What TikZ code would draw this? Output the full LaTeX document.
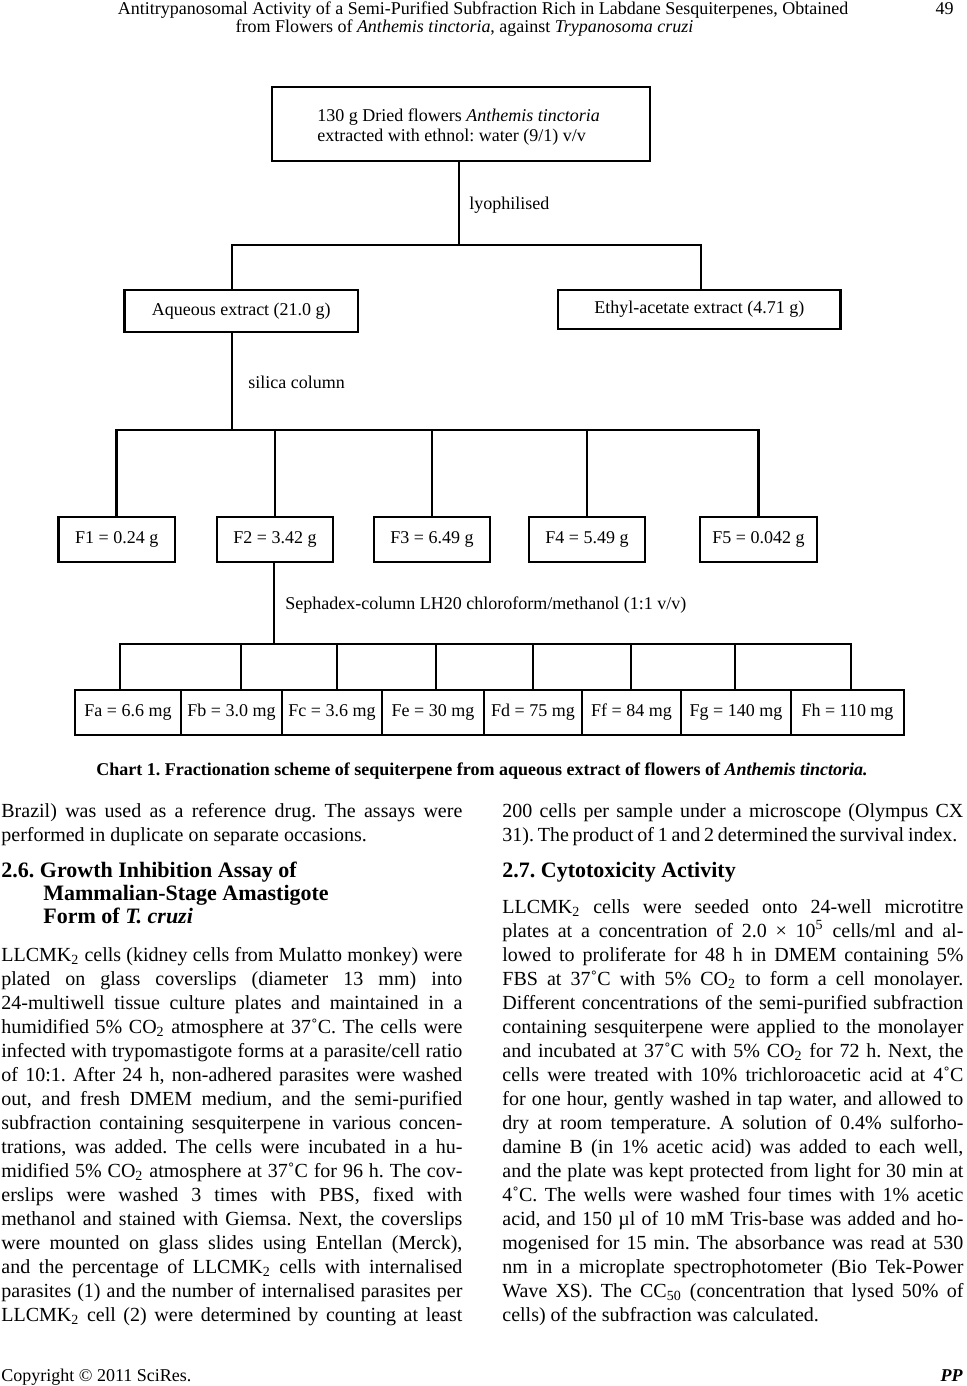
\documentclass[tikz,border=0pt]{standalone}
\usepackage{fontspec}
\setmainfont{Liberation Serif}
\frenchspacing
\newcommand\dfont{\fontsize{9pt}{11pt}\selectfont}
\newcommand\hfont{\fontsize{9pt}{11pt}\selectfont}
\newcommand\bfont{\fontsize{10pt}{12pt}\selectfont}
\newcommand\secfont{\fontsize{11pt}{12pt}\selectfont\bfseries}
\newcommand\capfont{\fontsize{9pt}{11pt}\selectfont\bfseries}
\newcommand\JL[1]{\makebox[230.5pt][s]{#1}}
\begin{document}
\begin{tikzpicture}[x=0.5pt,y=-0.5pt,
  box/.style={draw,line width=1.4pt,inner sep=0pt,font=\dfont,align=center},
  conn/.style={line width=1.4pt},
  lbl/.style={font=\dfont,inner sep=0pt,anchor=west},
  txt/.style={inner sep=0pt,anchor=base west,font=\bfont},
  sec/.style={inner sep=0pt,anchor=base west,font=\secfont},
  dtxt/.style={inner sep=0pt,anchor=base west,font=\dfont},
 ]
\useasboundingbox (0,0) rectangle (967,1386);
% ---------- header ----------
\node[inner sep=0pt,anchor=base,font=\hfont] (h1) at (483,15) {Antitrypanosomal Activity of a Semi-Purified Subfraction Rich in Labdane Sesquiterpenes, Obtained};
\node[inner sep=0pt,anchor=base,font=\hfont] (h2) at (464.5,33) {from Flowers of \textit{Anthemis tinctoria}, against \textit{Trypanosoma cruzi}};
\node[inner sep=0pt,anchor=base east,font=\hfont] (pg) at (954,15) {49};
% ---------- chart ----------
\node[box,minimum width=189pt,minimum height=37pt] (top) at (461,124) {};
\node[dtxt] (top1) at (317,121) {130 g Dried flowers \textit{Anthemis tinctoria}};
\node[dtxt] (top2) at (317,141) {extracted with ethnol: water (9/1) v/v};
\node[box,minimum width=116.75pt,minimum height=21pt] (aq) at (241.25,311) {Aqueous extract (21.0 g)};
\node[box,minimum width=141.3pt,minimum height=19.5pt] (ea) at (699.3,309.5) {Ethyl-acetate extract (4.71 g)};
\coordinate (lyo) at (459,245);
\coordinate (lyoL) at (232,245);
\coordinate (lyoR) at (701,245);
\draw[conn] (top.south -| lyo) -- (lyo);
\draw[conn] (aq.north -| lyoL) -- (lyoL) -- (lyoR) -- (ea.north -| lyoR);
\node[lbl] (lyolbl) at (469,205) {lyophilised};
% silica column
\node[box,minimum width=58.2pt,minimum height=22.5pt] (F1) at (116.8,539.5) {F1 = 0.24 g};
\node[box,minimum width=58pt,minimum height=22.5pt] (F2) at (275,539.5) {F2 = 3.42 g};
\node[box,minimum width=58pt,minimum height=22.5pt] (F3) at (432,539.5) {F3 = 6.49 g};
\node[box,minimum width=58pt,minimum height=22.5pt] (F4) at (587,539.5) {F4 = 5.49 g};
\node[box,minimum width=58.5pt,minimum height=22.5pt] (F5) at (758.5,539.5) {F5 = 0.042 g};
\coordinate (sil) at (232,430);
\draw[conn] (aq.south -| sil) -- (sil);
\draw[conn] (F1.north) -- (F1.north |- sil) -- (F5.north |- sil) -- (F5.north);
\draw[conn] (F2.north) -- (F2.north |- sil);
\draw[conn] (F3.north) -- (F3.north |- sil);
\draw[conn] (F4.north) -- (F4.north |- sil);
\node[lbl] (sillbl) at (248,382) {silica column};
% sephadex
\node[box,minimum width=53pt,minimum height=22.5pt] (Fa) at (128,712.5) {Fa = 6.6 mg};
\node[box,minimum width=50.5pt,minimum height=22.5pt] (Fb) at (231.5,712.5) {Fb = 3.0 mg};
\node[box,minimum width=50pt,minimum height=22.5pt] (Fc) at (332,712.5) {Fc = 3.6 mg};
\node[box,minimum width=51pt,minimum height=22.5pt] (Fe) at (433,712.5) {Fe = 30 mg};
\node[box,minimum width=49pt,minimum height=22.5pt] (Fd) at (533,712.5) {Fd = 75 mg};
\node[box,minimum width=49.5pt,minimum height=22.5pt] (Ff) at (631.5,712.5) {Ff = 84 mg};
\node[box,minimum width=55pt,minimum height=22.5pt] (Fg) at (736,712.5) {Fg = 140 mg};
\node[box,minimum width=56.5pt,minimum height=22.5pt] (Fh) at (847.5,712.5) {Fh = 110 mg};
\coordinate (seph) at (274,644);
\coordinate (d1) at (120,644);
\coordinate (d2) at (241,644);
\coordinate (d3) at (337,644);
\coordinate (d4) at (436,644);
\coordinate (d5) at (533,644);
\coordinate (d6) at (631,644);
\coordinate (d7) at (735,644);
\coordinate (d8) at (851,644);
\draw[conn] (F2.south -| seph) -- (seph);
\draw[conn] (Fa.north -| d1) -- (d1) -- (d8) -- (Fh.north -| d8);
\draw[conn] (Fb.north -| d2) -- (d2);
\draw[conn] (Fc.north -| d3) -- (d3);
\draw[conn] (Fe.north -| d4) -- (d4);
\draw[conn] (Fd.north -| d5) -- (d5);
\draw[conn] (Ff.north -| d6) -- (d6);
\draw[conn] (Fg.north -| d7) -- (d7);
\node[lbl] (sephlbl) at (285,605) {Sephadex-column LH20 chloroform/methanol (1:1 v/v)};
% ---------- caption ----------
\node[inner sep=0pt,anchor=base,font=\capfont] (cap) at (482,775) {Chart 1. Fractionation scheme of sequiterpene from aqueous extract of flowers of \textit{Anthemis tinctoria.}};
% ---------- left column ----------
\node[txt] (L0a) at (1,817) {\JL{Brazil) was used as a reference drug. The assays were}};
\node[txt] (L0b) at (1,841) {performed in duplicate on separate occasions.};
\node[sec] (S26a) at (1,877) {2.6. Growth Inhibition Assay of};
\node[sec] (S26b) at (43,900) {Mammalian-Stage Amastigote};
\node[sec] (S26c) at (43,923) {Form of \textit{T. cruzi}};
\foreach \t [count=\i] in {
 {LLCMK\textsubscript{2} cells (kidney cells from Mulatto monkey) were},
 {plated on glass coverslips (diameter 13 mm) into},
 {24-multiwell tissue culture plates and maintained in a},
 {humidified 5\% CO\textsubscript{2} atmosphere at 37˚C. The cells were},
 {infected with trypomastigote forms at a parasite/cell ratio},
 {of 10:1. After 24 h, non-adhered parasites were washed},
 {out, and fresh DMEM medium, and the semi-purified},
 {subfraction containing sesquiterpene in various concen-},
 {trations, was added. The cells were incubated in a hu-},
 {midified 5\% CO\textsubscript{2} atmosphere at 37˚C for 96 h. The cov-},
 {erslips were washed 3 times with PBS, fixed with},
 {methanol and stained with Giemsa. Next, the coverslips},
 {were mounted on glass slides using Entellan (Merck),},
 {and the percentage of LLCMK\textsubscript{2} cells with internalised},
 {parasites (1) and the number of internalised parasites per},
 {LLCMK\textsubscript{2} cell (2) were determined by counting at least}}
 \node[txt] (L\i) at (1,{961+24*(\i-1)}) {\JL{\t}};
% ---------- right column ----------
\node[txt] (R0a) at (502,817) {\JL{200 cells per sample under a microscope (Olympus CX}};
\node[txt] (R0b) at (502,841) {\makebox[227.5pt][s]{31). The product of 1 and 2 determined the survival index.}};
\node[sec] (S27) at (502,877) {2.7. Cytotoxicity Activity};
\foreach \t [count=\i] in {
 {LLCMK\textsubscript{2} cells were seeded onto 24-well microtitre},
 {plates at a concentration of 2.0 × 10\textsuperscript{5} cells/ml and al-},
 {lowed to proliferate for 48 h in DMEM containing 5\%},
 {FBS at 37˚C with 5\% CO\textsubscript{2} to form a cell monolayer.},
 {Different concentrations of the semi-purified subfraction},
 {containing sesquiterpene were applied to the monolayer},
 {and incubated at 37˚C with 5\% CO\textsubscript{2} for 72 h. Next, the},
 {cells were treated with 10\% trichloroacetic acid at 4˚C},
 {for one hour, gently washed in tap water, and allowed to},
 {dry at room temperature. A solution of 0.4\% sulforho-},
 {damine B (in 1\% acetic acid) was added to each well,},
 {and the plate was kept protected from light for 30 min at},
 {4˚C. The wells were washed four times with 1\% acetic},
 {acid, and 150 µl of 10 mM Tris-base was added and ho-},
 {mogenised for 15 min. The absorbance was read at 530},
 {nm in a microplate spectrophotometer (Bio Tek-Power},
 {Wave XS). The CC\textsubscript{50} (concentration that lysed 50\% of}}
 \node[txt] (R\i) at (502,{913+24*(\i-1)}) {\JL{\t}};
\node[txt] (R18) at (502,1321) {cells) of the subfraction was calculated.};
% ---------- footer ----------
\node[inner sep=0pt,anchor=base west,font=\hfont] (copy) at (1,1381) {Copyright © 2011 SciRes.};
\node[inner sep=0pt,anchor=base east,font=\hfont\bfseries\itshape] (pp) at (963,1381) {PP};
\end{tikzpicture}
\end{document}
